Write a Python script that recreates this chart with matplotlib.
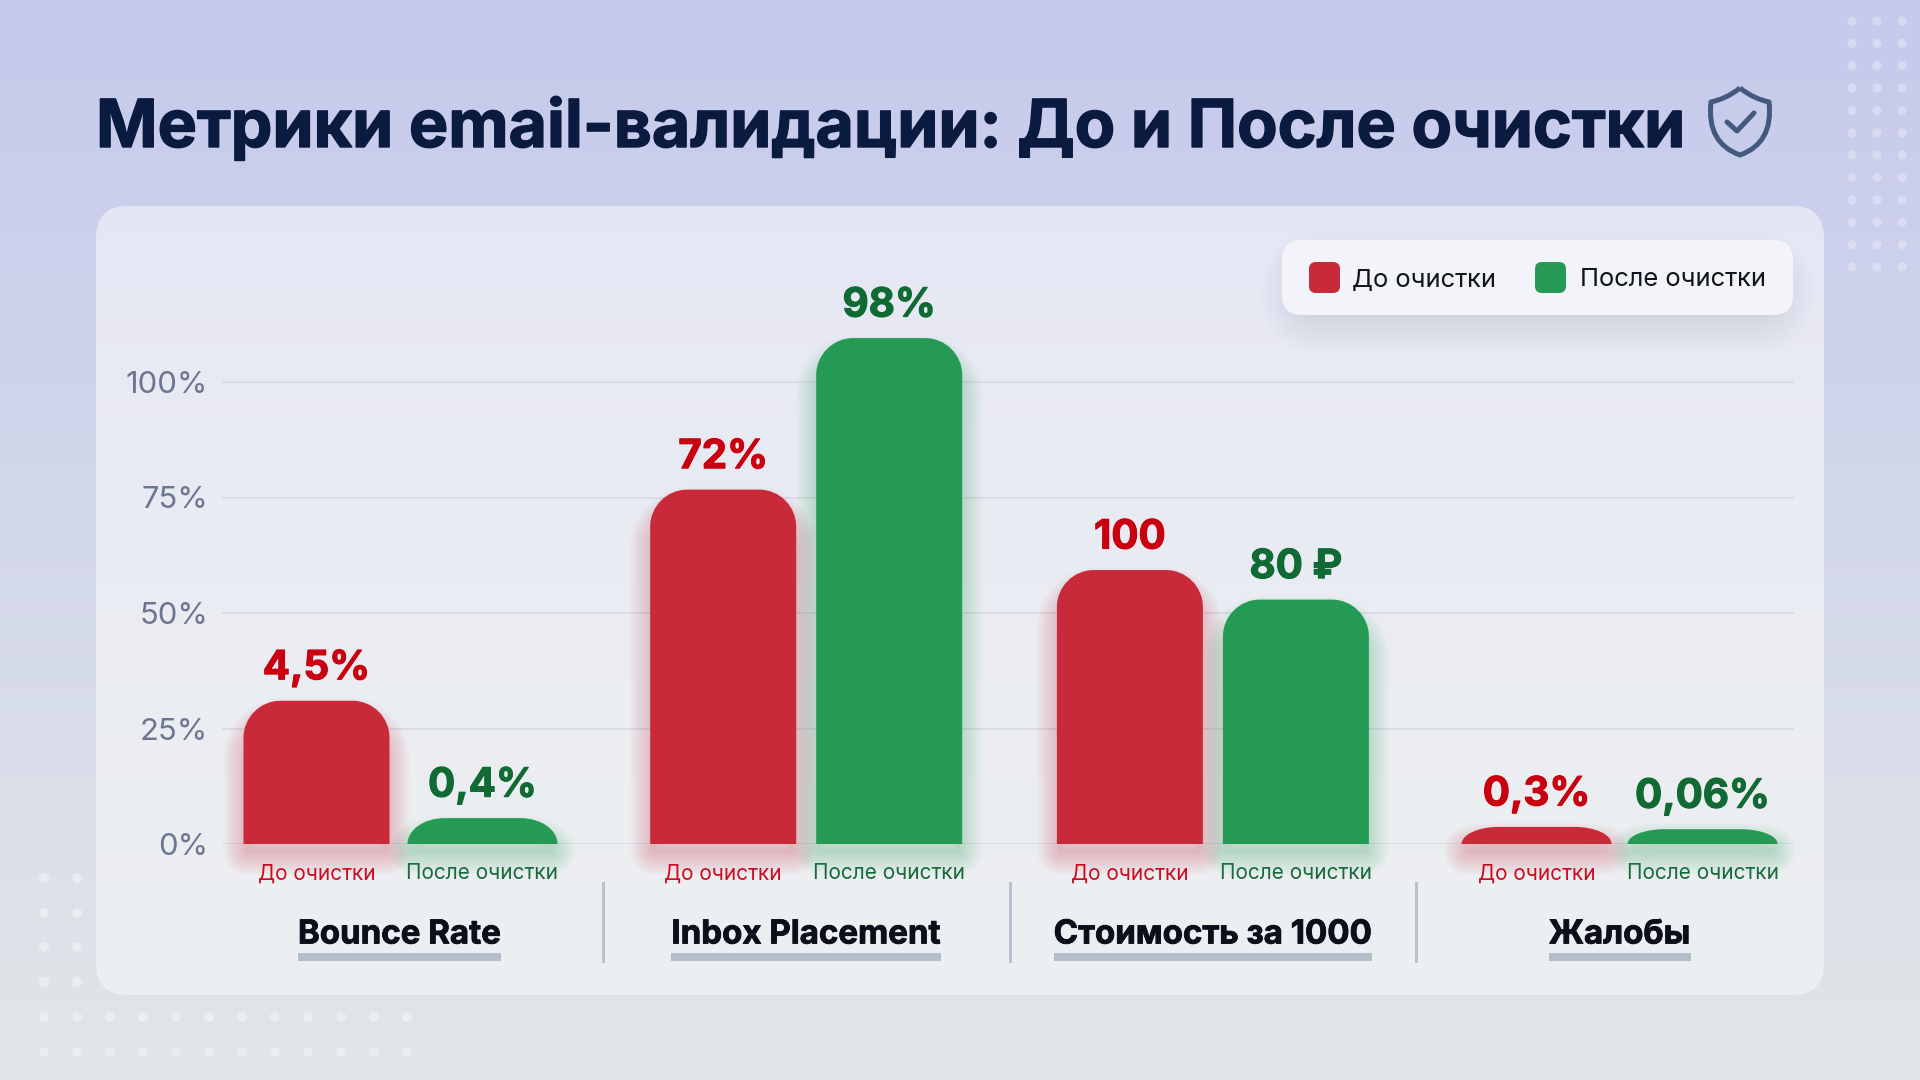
import matplotlib
matplotlib.use("Agg")
import matplotlib.pyplot as plt
import matplotlib.patheffects as pe
import numpy as np
from matplotlib.patches import Circle, FancyBboxPatch, PathPatch
from matplotlib.path import Path

plt.rcParams["font.family"] = ["Inter", "DejaVu Sans"]

W, H = 1920, 1080
PX = 0.72  # one pixel in points at dpi=100

groups = ["Bounce Rate", "Inbox Placement", "Стоимость за 1000", "Жалобы"]
before_heights = [31, 76.7, 59.3, 3.7]
after_heights = [5.6, 109.5, 52.9, 3.2]
before_labels = ["4,5%", "72%", "100", "0,3%"]
after_labels = ["0,4%", "98%", "80 ₽", "0,06%"]
yticks = [0, 25, 50, 75, 100]
ytick_labels = ["0%", "25%", "50%", "75%", "100%"]

RED, GREEN = "#c92a39", "#259a55"
RED_TEXT, GREEN_TEXT = "#c9000f", "#0f6a33"
RED_SUB, GREEN_SUB = "#d00a20", "#17693a"

fig = plt.figure(figsize=(19.2, 10.8), dpi=100)

# background layer, in pixel coordinates
bg = fig.add_axes([0, 0, 1, 1], zorder=0)
bg.set_xlim(0, W)
bg.set_ylim(H, 0)
bg.axis("off")


def vgradient(top, bottom, power=1.0):
    t = np.linspace(0, 1, 256)[:, None] ** power
    a = np.array(matplotlib.colors.to_rgb(top))
    b = np.array(matplotlib.colors.to_rgb(bottom))
    return (a + (b - a) * t[..., None])


def heavy(text, color, width=0.7):
    # Inter Bold is a little lighter than the reference lettering
    text.set_path_effects([pe.withStroke(linewidth=width, foreground=color)])


bg.imshow(vgradient("#c6caec", "#e1e6e8"), extent=(0, W, H, 0), aspect="auto", zorder=0)

# dots
for y in np.linspace(21, 267, 12):
    for x in (1852, 1877, 1902):
        bg.add_patch(Circle((x, y), 4.5, color="white", alpha=0.3, lw=0, zorder=1))
for y in (878, 913, 947, 982, 1017, 1052):
    for x in np.linspace(44, 407, 12):
        bg.add_patch(Circle((x, y), 5, color="white", alpha=0.38, lw=0, zorder=1))

# card
card = FancyBboxPatch((96, 206), 1728, 789, boxstyle="round,pad=0,rounding_size=32",
                      fc="none", ec="none", zorder=2)
bg.add_patch(card)
card_img = bg.imshow(vgradient("#e5e6f5", "#edf0f1", 0.7), extent=(96, 1824, 995, 206),
                     aspect="auto", zorder=2)
card_img.set_clip_path(card)
bg.set_xlim(0, W)
bg.set_ylim(H, 0)

# legend box with soft shadow
for lw in range(4, 84, 8):
    bg.add_patch(FancyBboxPatch((1300, 270), 475, 45, boxstyle="round,pad=0,rounding_size=20",
                                fc="#7f86a5", ec="#7f86a5", lw=lw * PX, alpha=0.018, zorder=3))
bg.add_patch(FancyBboxPatch((1282, 240), 511, 75, boxstyle="round,pad=0,rounding_size=20",
                            fc="#f3f4f9", ec="none", zorder=4))
bg.add_patch(FancyBboxPatch((1309, 262), 31, 31, boxstyle="round,pad=0,rounding_size=7",
                            fc=RED, ec="none", zorder=5))
bg.add_patch(FancyBboxPatch((1535, 262), 31, 31, boxstyle="round,pad=0,rounding_size=7",
                            fc=GREEN, ec="none", zorder=5))
bg.text(1352, 280, "До очистки", fontsize=18.4, color="#11141c", va="center", zorder=5)
bg.text(1580, 280, "После очистки", fontsize=18.4, color="#11141c", va="center", zorder=5)

# title and shield
title = bg.text(96, 129, "Метрики email-валидации: До и После очистки", fontsize=47.6,
                fontweight="bold", color="#0b1a3f", va="center", zorder=5)
heavy(title, "#0b1a3f", 1.0)
shield = Path(
    [(1740, 88), (1730, 96), (1720, 100), (1711, 102), (1708, 130), (1718, 147), (1740, 155),
     (1762, 147), (1772, 130), (1769, 102), (1760, 100), (1750, 96), (1740, 88)],
    [Path.MOVETO] + [Path.CURVE4] * 12,
)
bg.add_patch(PathPatch(shield, fc="none", ec="#44597e", lw=5 * PX, joinstyle="round", zorder=5))
bg.plot([1727, 1737, 1754], [122, 131, 113], color="#44597e", lw=5 * PX, zorder=5,
        solid_capstyle="round", solid_joinstyle="round")

# chart
Y0, Y100 = 844, 382
LEFT, RIGHT, TOP = 222, 1794, 240
ax = fig.add_axes([LEFT / W, 1 - Y0 / H, (RIGHT - LEFT) / W, (Y0 - TOP) / H], zorder=1)
ax.patch.set_alpha(0)
px_y = (Y0 - Y100) / 100
px_x = 406.7
ax.set_ylim(0, (Y0 - TOP) / px_y)
ax.set_xlim((LEFT - 399.5) / px_x, (RIGHT - 399.5) / px_x)
for s in ax.spines.values():
    s.set_visible(False)
ax.set_axisbelow(True)
ax.set_yticks(yticks, ytick_labels)
ax.yaxis.grid(True, color="#d8dbe4", lw=1.3)
ax.xaxis.grid(False)
ax.tick_params(axis="y", length=0, pad=10, labelsize=22.3, labelcolor="#6c7690")


def bar_path(xc, h, width, shift=0):
    rx = 37 / px_x
    ry = min(37 / px_y, h)
    k = 0.5523
    l, r = xc - width / 2, xc + width / 2
    return Path(
        np.array([(l, 0), (l, h - ry), (l, h - ry + k * ry), (l + rx - k * rx, h), (l + rx, h),
                  (r - rx, h), (r - rx + k * rx, h), (r, h - ry + k * ry), (r, h - ry), (r, 0), (l, 0)])
        - (0, shift),
        [Path.MOVETO, Path.LINETO, Path.CURVE4, Path.CURVE4, Path.CURVE4,
         Path.LINETO, Path.CURVE4, Path.CURVE4, Path.CURVE4, Path.LINETO, Path.CLOSEPOLY],
    )


def draw_bar(xc, h, color, text, text_color):
    # the low bars are a touch wider in the reference
    width = (150 if h < 10 else 146) / px_x
    glow = bar_path(xc, max(h - 3, 1), 138 / px_x, shift=7 / px_y)
    for lw in range(4, 52, 4):
        ax.add_patch(PathPatch(glow, fc="none", ec=color, lw=lw * PX, alpha=0.024,
                               joinstyle="round", clip_on=False, zorder=2))
    ax.add_patch(PathPatch(bar_path(xc, h, width), fc=color, ec="none", clip_on=False, zorder=3))
    label = ax.annotate(text, (xc, h), xytext=(0, 32 * PX), textcoords="offset points",
                        ha="center", va="center", fontsize=29, fontweight="bold",
                        color=text_color, zorder=4)
    heavy(label, text_color, 0.8)


offset = 83 / px_x
xt, xl, xc = [], [], []
for g in range(len(groups)):
    draw_bar(g - offset, before_heights[g], RED, before_labels[g], RED_TEXT)
    draw_bar(g + offset, after_heights[g], GREEN, after_labels[g], GREEN_TEXT)
    xt += [g - offset, g + offset]
    xl += ["До очистки", "После очистки"]
    xc += [RED_SUB, GREEN_SUB]

ax.set_xticks(xt, xl)
ax.tick_params(axis="x", length=0, pad=14, labelsize=15)
for lab, c in zip(ax.get_xticklabels(), xc):
    lab.set_color(c)

# group names with underline, separators between groups
fig.canvas.draw()
renderer = fig.canvas.get_renderer()
for g, name in enumerate(groups):
    t = ax.annotate(name, (g, 0), xytext=(0, -91 * PX), textcoords="offset points",
                    ha="center", va="center", fontsize=23.8, fontweight="bold",
                    color="#0b0f1a", annotation_clip=False)
    heavy(t, "#0b0f1a", 0.6)
    box = t.get_window_extent(renderer)
    bg.fill_between([box.x0, box.x1], 953, 961, color="#b4bdca", lw=0, zorder=5)
    if g < len(groups) - 1:
        ax.plot([g + 0.5, g + 0.5], [-8.44, -25.3], color="#b9c2ce", lw=3 * PX,
                clip_on=False, zorder=2)

fig.savefig("out.png", dpi=100)
